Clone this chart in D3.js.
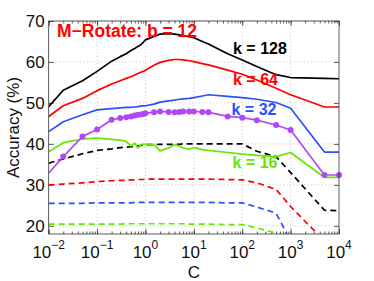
<!DOCTYPE html>
<html>
<head>
<meta charset="utf-8">
<script src="https://cdn.jsdelivr.net/npm/d3@7"></script>
<style>
  html, body { margin: 0; padding: 0; background: #fff; }
  svg { display: block; font-family: "Liberation Sans", Arial, sans-serif; }
</style>
</head>
<body>
<svg id="chart" width="374" height="281"></svg>
<script>
// ---- data ----
var cValues = [0.01, 0.02, 0.05, 0.1, 0.2, 0.3, 0.4, 0.5, 0.6, 0.7, 0.8, 0.9, 1, 1.5, 2, 3, 4, 5, 6, 8, 10, 15, 20, 50, 100, 200, 500, 1000, 5000, 10000];

var k128 = [49.1, 53.1, 55.4, 57.7, 60.2, 61.3, 62.0, 62.8, 63.3, 63.8, 64.2, 64.8, 65.4, 66.2, 66.8, 66.9, 66.8, 66.6, 66.4, 66.2, 65.9, 65.0, 64.4, 62.0, 60.5, 58.9, 56.9, 56.2, 56.0, 55.9];
var k64 = [46.7, 49.3, 51.1, 53.0, 54.6, 55.4, 56.0, 56.4, 56.8, 57.2, 57.5, 57.7, 58.0, 59.2, 59.9, 60.4, 60.6, 60.6, 60.5, 60.3, 60.1, 59.6, 59.3, 58.0, 57.0, 55.6, 53.6, 52.0, 49.0, 49.0];
var k32 = [43.0, 45.4, 47.1, 48.3, 48.6, 48.8, 48.9, 48.9, 49.0, 49.1, 49.2, 49.3, 49.3, 49.7, 50.2, 50.5, 50.7, 50.9, 51.0, 51.1, 51.3, 51.7, 52.0, 51.6, 51.3, 50.9, 50.1, 48.7, 38.0, 38.0];
var k16 = [38.1, 40.3, 41.2, 41.4, 41.1, 40.9, 40.6, 39.5, 40.2, 39.0, 39.8, 39.9, 39.9, 39.8, 38.3, 39.0, 39.8, 39.5, 39.0, 38.7, 39.1, 38.6, 38.4, 37.9, 37.5, 37.2, 36.9, 37.9, 31.8, 31.8];
var markerSeries = [32.9, 36.9, 41.8, 43.5, 45.9, 46.3, 46.5, 46.7, 46.9, 47.1, 47.2, 47.3, 47.5, 47.7, 47.9, 47.8, 47.7, 47.8, 47.9, 47.9, 47.9, 47.8, 47.7, 46.7, 46.4, 45.8, 44.6, 43.4, 32.4, 32.4];

var base128 = [35.3, 36.3, 37.6, 38.4, 38.8, 39.1, 39.2, 39.3, 39.4, 39.5, 39.6, 39.7, 39.8, 39.8, 39.9, 39.9, 39.9, 39.9, 40.0, 40.0, 40.0, 40.0, 40.0, 40.0, 40.0, 38.2, 36.9, 33.0, 23.8, 23.7];
var base64 = [30.0, 30.2, 30.5, 30.8, 31.0, 31.1, 31.1, 31.2, 31.2, 31.3, 31.3, 31.3, 31.4, 31.4, 31.4, 31.4, 31.4, 31.4, 31.4, 31.4, 31.4, 31.4, 31.4, 31.3, 31.2, 30.5, 28.9, 24.7, 16.3, 15.0];
var base32 = [25.5, 25.5, 25.5, 25.6, 25.6, 25.6, 25.6, 25.6, 25.7, 25.7, 25.7, 25.7, 25.7, 25.7, 25.7, 25.7, 25.7, 25.7, 25.7, 25.7, 25.7, 25.7, 25.7, 25.6, 25.6, 24.6, 23.1, 16.3, 12.0, 12.0];
var base16 = [20.4, 20.4, 20.4, 20.4, 20.4, 20.4, 20.5, 20.5, 20.5, 20.5, 20.5, 20.5, 20.5, 20.5, 20.5, 20.5, 20.5, 20.5, 20.5, 20.4, 20.4, 20.4, 20.4, 20.3, 20.3, 19.5, 18.2, 15.0, 12.0, 12.0];

var yTicks = [20, 30, 40, 50, 60, 70];
var xTickExps = [-2, -1, 0, 1, 2, 3, 4];

var titleText = "M\u2212Rotate: b = 12";
var kLabels = ["k = 128", "k = 64", "k = 32", "k = 16"];

(function () {
    // ---- layout ----
    var svg = d3.select('#chart');
    var left = 48.7, right = 339, plotTop = 21, plotBottom = 234;

    var x = d3.scaleLog().domain([0.01, 10000]).range([left, right]);
    var y = d3.scaleLinear().domain([18, 70]).range([plotBottom, plotTop]);

    var red = '#ff0000', blue = '#2a50ff', green = '#66e600', purple = '#b048f5';

    // grid (dotted)
    var grid = svg.append('g').attr('stroke', '#b4b4b4').attr('stroke-width', 0.8).attr('stroke-dasharray', '1,2.5');
    grid.selectAll('line.gx').data(xTickExps.slice(1, -1)).enter().append('line')
        .attr('x1', function (e) { return x(Math.pow(10, e)); })
        .attr('x2', function (e) { return x(Math.pow(10, e)); })
        .attr('y1', plotTop).attr('y2', plotBottom);
    grid.selectAll('line.gy').data(yTicks).enter().append('line')
        .attr('y1', function (v) { return y(v); })
        .attr('y2', function (v) { return y(v); })
        .attr('x1', left).attr('x2', right);

    // axes: ticks pointing inward, on all four sides
    var minor = x.ticks();
    var majorVals = xTickExps.map(function (e) { return Math.pow(10, e); });
    function tickStyle(g) {
        g.select('.domain').remove();
        g.selectAll('text').remove();
        g.selectAll('line').attr('stroke', '#333').attr('stroke-width', 0.8);
    }
    svg.append('g').attr('transform', 'translate(0,' + plotBottom + ')')
        .call(d3.axisBottom(x).tickValues(minor).tickSize(-2.5)).call(tickStyle);
    svg.append('g').attr('transform', 'translate(0,' + plotBottom + ')')
        .call(d3.axisBottom(x).tickValues(majorVals).tickSize(-5)).call(tickStyle);
    svg.append('g').attr('transform', 'translate(0,' + plotTop + ')')
        .call(d3.axisTop(x).tickValues(minor).tickSize(-2.5)).call(tickStyle);
    svg.append('g').attr('transform', 'translate(0,' + plotTop + ')')
        .call(d3.axisTop(x).tickValues(majorVals).tickSize(-5)).call(tickStyle);
    svg.append('g').attr('transform', 'translate(' + left + ',0)')
        .call(d3.axisLeft(y).tickValues(yTicks).tickSize(-5)).call(tickStyle);
    svg.append('g').attr('transform', 'translate(' + right + ',0)')
        .call(d3.axisRight(y).tickValues(yTicks).tickSize(-5)).call(tickStyle);

    // clip for the data lines
    svg.append('clipPath').attr('id', 'plotclip').append('rect')
        .attr('x', left).attr('y', plotTop).attr('width', right - left).attr('height', plotBottom - plotTop);
    var plot = svg.append('g').attr('clip-path', 'url(#plotclip)');

    var line = d3.line()
        .x(function (d) { return x(d[0]); })
        .y(function (d) { return y(d[1]); });

    function pairs(vals) { return cValues.map(function (c, i) { return [c, vals[i]]; }); }

    var series = [
        { vals: base16, color: green, dash: '6,4' },
        { vals: base32, color: blue, dash: '6,4' },
        { vals: base64, color: red, dash: '6,4' },
        { vals: base128, color: '#000', dash: '6,4' },
        { vals: k16, color: green },
        { vals: markerSeries, color: purple },
        { vals: k32, color: blue },
        { vals: k64, color: red },
        { vals: k128, color: '#000' }
    ];
    series.forEach(function (s) {
        plot.append('path')
            .attr('d', line(pairs(s.vals)))
            .attr('fill', 'none')
            .attr('stroke', s.color)
            .attr('stroke-width', 1.7)
            .attr('stroke-dasharray', s.dash || null)
            .attr('stroke-linejoin', 'round');
    });
    svg.append('g').selectAll('circle').data(pairs(markerSeries).slice(1)).enter().append('circle')
        .attr('cx', function (d) { return x(d[0]); })
        .attr('cy', function (d) { return y(d[1]); })
        .attr('r', 3)
        .attr('fill', purple);

    // frame
    svg.append('rect').attr('x', left).attr('y', plotTop).attr('width', right - left).attr('height', plotBottom - plotTop)
        .attr('fill', 'none').attr('stroke', '#333').attr('stroke-width', 0.8);

    // tick labels
    svg.append('g').selectAll('text').data(yTicks).enter().append('text')
        .attr('x', left - 4).attr('y', function (v) { return y(v) + 6; })
        .attr('text-anchor', 'end').attr('font-size', 17).attr('fill', '#111')
        .text(function (v) { return v; });

    var xl = svg.append('g').selectAll('text').data(xTickExps).enter().append('text')
        .attr('x', function (e) { return x(Math.pow(10, e)); })
        .attr('y', 258)
        .attr('text-anchor', 'middle').attr('font-size', 17).attr('fill', '#111');
    xl.append('tspan').text('10');
    xl.append('tspan').attr('dy', -9).attr('font-size', 12)
        .text(function (e) { return e < 0 ? '\u2212' + (-e) : String(e); });

    // axis titles
    svg.append('text').attr('x', (left + right) / 2).attr('y', 278)
        .attr('text-anchor', 'middle').attr('font-size', 17).attr('fill', '#111').text('C');
    svg.append('text').attr('transform', 'translate(19,' + ((plotTop + plotBottom) / 2) + ') rotate(-90)')
        .attr('text-anchor', 'middle').attr('font-size', 17).attr('fill', '#111').text('Accuracy (%)');

    // annotations
    svg.append('text').attr('x', 57).attr('y', 37).attr('font-size', 17.5).attr('font-weight', 'bold')
        .attr('fill', red).text(titleText);
    var kPos = [[233, 54, '#000'], [233, 85, red], [231.5, 115, blue], [232.5, 167.5, green]];
    svg.append('g').selectAll('text').data(kLabels).enter().append('text')
        .attr('x', function (d, i) { return kPos[i][0]; })
        .attr('y', function (d, i) { return kPos[i][1]; })
        .attr('font-size', 16).attr('font-weight', 'bold')
        .attr('fill', function (d, i) { return kPos[i][2]; })
        .text(function (d) { return d; });
})();
</script>
</body>
</html>
